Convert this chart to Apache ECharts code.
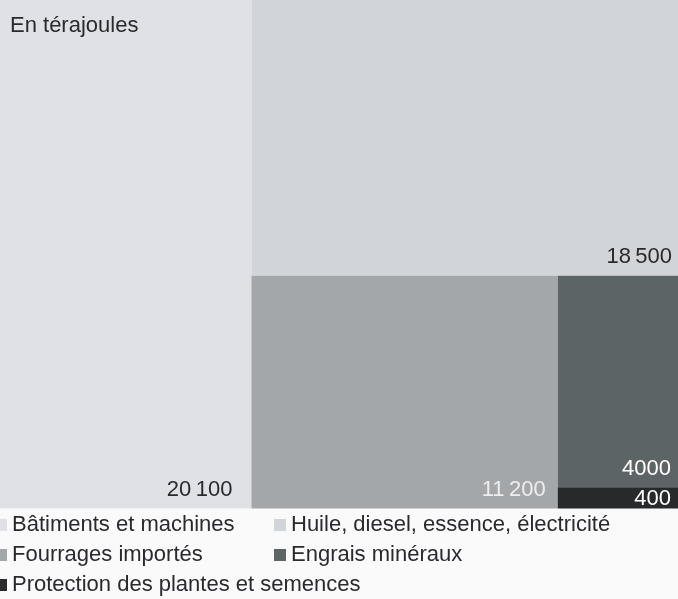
<!DOCTYPE html>
<html>
<head>
<meta charset="utf-8">
<script src="https://cdn.jsdelivr.net/npm/echarts@6/dist/echarts.min.js"></script>
<style>
html,body{margin:0;padding:0;background:#fafafa;}
#c{width:678px;height:599px;}
</style>
</head>
<body>
<div id="c"></div>
<script>
const unitLabel = 'En térajoules';
const categories = [
  'Bâtiments et machines',
  'Huile, diesel, essence, électricité',
  'Fourrages importés',
  'Engrais minéraux',
  'Protection des plantes et semences'
];
const values = [20100, 18500, 11200, 4000, 400];
const colors = ['#dfe1e6', '#d1d4d8', '#a4a7aa', '#5c6466', '#27292b'];
const labelColors = ['#2a2a2e', '#2a2a2e', '#eeeeee', '#ffffff', '#ffffff'];
const labelOffsets = [[-19, -9], [-6, -9], [-12, -9], [-7, -8], [-7, 0]];
const legendCol1 = [0, 2, 4];
const legendCol2 = [1, 3];

const FONT = '"Liberation Sans", Arial, sans-serif';

function fmt(v) {
  const s = String(v);
  return v >= 10000 ? s.slice(0, s.length - 3) + '\u2009' + s.slice(-3) : s;
}
function leaf(i) {
  return {
    name: categories[i],
    value: values[i],
    itemStyle: { color: colors[i] },
    label: { color: labelColors[i], offset: labelOffsets[i] }
  };
}
// nested grouping reproduces the arrangement of the original
const tree = [
  leaf(0),
  { name: 'g1', children: [
    leaf(1),
    { name: 'g2', children: [
      leaf(2),
      { name: 'g3', children: [leaf(3), leaf(4)] }
    ] }
  ] }
];

const dummySeries = categories.map((n, i) => ({
  type: 'pie', name: n, data: [], radius: 0, showEmptyCircle: false,
  itemStyle: { color: colors[i] }, silent: true
}));

const legendBase = {
  orient: 'vertical', top: 514, padding: 0, itemGap: 8,
  itemWidth: 12, itemHeight: 12, icon: 'rect', selectedMode: false,
  textStyle: { fontFamily: FONT, fontSize: 22, color: '#2a2a2e' }
};

const chart = echarts.init(document.getElementById('c'), null, { renderer: 'canvas' });
chart.setOption({
  animation: false,
  backgroundColor: '#fafafa',
  title: {
    text: unitLabel, left: 10, top: 15, padding: 0,
    textStyle: { fontFamily: FONT, fontSize: 22, fontWeight: 'normal', color: '#2a2a2e' }
  },
  legend: [
    Object.assign({}, legendBase, { left: -5, data: legendCol1.map(i => categories[i]) }),
    Object.assign({}, legendBase, { left: 274, data: legendCol2.map(i => categories[i]) })
  ],
  series: [{
    type: 'treemap',
    left: 0, top: 0, width: 678, height: 508.5,
    roam: false, nodeClick: false, sort: false, squareRatio: 1,
    breadcrumb: { show: false },
    itemStyle: { borderWidth: 0, gapWidth: 0, borderColor: 'rgba(0,0,0,0)' },
    upperLabel: { show: false },
    label: {
      show: true, position: 'insideBottomRight', distance: 0, padding: 0,
      fontFamily: FONT, fontSize: 22, lineHeight: 20,
      formatter: p => fmt(p.value)
    },
    data: tree
  }].concat(dummySeries)
});
</script>
</body>
</html>
